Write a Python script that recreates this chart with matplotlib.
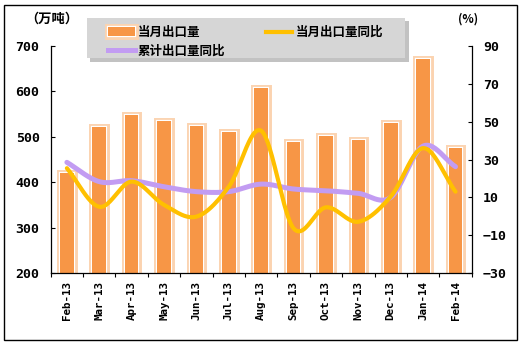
import numpy as np
import matplotlib
matplotlib.use("Agg")
import matplotlib.pyplot as plt
import matplotlib.patheffects as pe
from matplotlib.patches import Rectangle
from matplotlib.lines import Line2D

plt.rcParams['font.family'] = ['Noto Sans CJK SC', 'DejaVu Sans']

# monthly export data
months = ['Feb-13', 'Mar-13', 'Apr-13', 'May-13', 'Jun-13', 'Jul-13', 'Aug-13',
          'Sep-13', 'Oct-13', 'Nov-13', 'Dec-13', 'Jan-14', 'Feb-14']
export_vol = [420, 522, 549, 535, 524, 510, 608, 488, 502, 494, 531, 672, 475]   # 万吨
export_yoy = [25.4, 5.0, 18.3, 6.0, -0.2, 15.6, 45.2, -6.4, 4.7, -2.9, 10.4, 36.0, 13.0]  # %
cum_yoy = [28.5, 18.3, 18.8, 15.6, 13.0, 13.0, 17.0, 14.4, 13.5, 12.1, 10.0, 37.1, 26.2]  # %

ORANGE = '#f79646'
PEACH = '#fbd3b0'
YELLOW = '#ffc000'
PURPLE = '#c29cf2'

W, H = 522, 347  # figure size in pixels


def smooth(y, n=24):
    # catmull-rom spline through the points (like excel's smoothed line)
    y = np.asarray(y, dtype=float)
    p = np.concatenate([[2 * y[0] - y[1]], y, [2 * y[-1] - y[-2]]])
    xs, ys = [], []
    for i in range(len(y) - 1):
        p0, p1, p2, p3 = p[i], p[i + 1], p[i + 2], p[i + 3]
        t = np.linspace(0, 1, n, endpoint=False)
        v = 0.5 * (2 * p1 + (-p0 + p2) * t + (2 * p0 - 5 * p1 + 4 * p2 - p3) * t ** 2
                   + (-p0 + 3 * p1 - 3 * p2 + p3) * t ** 3)
        xs.append(i + t)
        ys.append(v)
    xs.append([len(y) - 1])
    ys.append([y[-1]])
    return np.concatenate(xs), np.concatenate(ys)


def fig_box(x0, y0, x1, y1):
    # pixel box (top-left origin) -> figure fraction rect
    return (x0 / W, 1 - y1 / H, (x1 - x0) / W, (y1 - y0) / H)


fig = plt.figure(figsize=(W / 100, H / 100), dpi=100)
ax = fig.add_axes(fig_box(50.7, 46, 471.7, 273))
ax2 = ax.twinx()

x = np.arange(len(months))
bars = ax.bar(x, export_vol, width=0.42, color=ORANGE, edgecolor='none', zorder=2)
for b in bars:
    b.set_path_effects([pe.Stroke(linewidth=5, foreground=PEACH),
                        pe.Stroke(linewidth=1.6, foreground='white'),
                        pe.Normal()])

sx, sy = smooth(export_yoy)
ax2.plot(sx, sy, color=YELLOW, lw=3.0, solid_capstyle='round', zorder=3)
sx, sy = smooth(cum_yoy)
ax2.plot(sx, sy, color=PURPLE, lw=3.6, solid_capstyle='round', zorder=2)

ax.set_xlim(-0.5, len(months) - 0.5)
ax.set_ylim(200, 700)
ax2.set_ylim(-30, 90)
ax.set_yticks(range(200, 701, 100))
ax2.set_yticks(range(-30, 91, 20))

ax.set_xticks(x)
ax.set_xticklabels(months, rotation=90, fontsize=7.8, fontweight='bold',
                   family='DejaVu Sans Mono', va='top')
ax.set_xticks(np.arange(-0.5, len(months), 1), minor=True)
ax.tick_params(axis='x', which='major', length=0, pad=6)
ax.tick_params(axis='x', which='minor', length=3, direction='out', width=0.8)
ax.tick_params(axis='y', direction='in', length=3, width=0.8, pad=8)
ax2.tick_params(axis='y', direction='in', length=3, width=0.8, pad=8)
for lab in ax.get_yticklabels() + ax2.get_yticklabels():
    lab.set_fontsize(9.5)
    lab.set_fontweight('bold')
    lab.set_family('DejaVu Sans Mono')

for a in (ax, ax2):
    a.spines['top'].set_visible(False)
    for s in a.spines.values():
        s.set_linewidth(0.9)
ax.spines['right'].set_visible(False)
ax2.spines['left'].set_visible(False)
ax2.spines['bottom'].set_visible(False)
ax.set_zorder(1)
ax2.set_zorder(2)
ax.patch.set_visible(False)

# axis unit captions
fig.text(52 / W, 1 - 19 / H, '（万吨）', ha='center', va='center',
         fontsize=9.5, fontweight='bold')
fig.text(468 / W, 1 - 19 / H, '(%)', ha='center', va='center',
         fontsize=8.5, fontweight='bold')

# grey legend panel with drop shadow
fig.patches.append(Rectangle(fig_box(90, 21, 409, 62)[:2], *fig_box(90, 21, 409, 62)[2:],
                             transform=fig.transFigure, facecolor='#9a9a9a',
                             edgecolor='none', alpha=0.6, zorder=5))
fig.patches.append(Rectangle(fig_box(87, 18, 405, 58)[:2], *fig_box(87, 18, 405, 58)[2:],
                             transform=fig.transFigure, facecolor='#d6d6d6',
                             edgecolor='none', zorder=6))

handles = [bars[0],
           Line2D([], [], color=PURPLE, lw=3.6),
           Line2D([], [], color=YELLOW, lw=3.0)]
labels = ['当月出口量', '累计出口量同比', '当月出口量同比']
leg = fig.legend(handles, labels, ncol=2, loc='upper left',
                 bbox_to_anchor=(108 / W, 1 - 26 / H),
                 prop={'size': 9, 'weight': 'bold'}, handlelength=2.15,
                 handletextpad=0.25, borderpad=0.0, borderaxespad=0.0,
                 labelspacing=0.45, columnspacing=3.2, frameon=False)
leg.set_zorder(10)

# outer frame
fig.patches.append(Rectangle(fig_box(4, 5, 517, 340)[:2], *fig_box(4, 5, 517, 340)[2:],
                             transform=fig.transFigure, fill=False,
                             edgecolor='black', lw=1.0))

fig.savefig('out.png', dpi=100)
